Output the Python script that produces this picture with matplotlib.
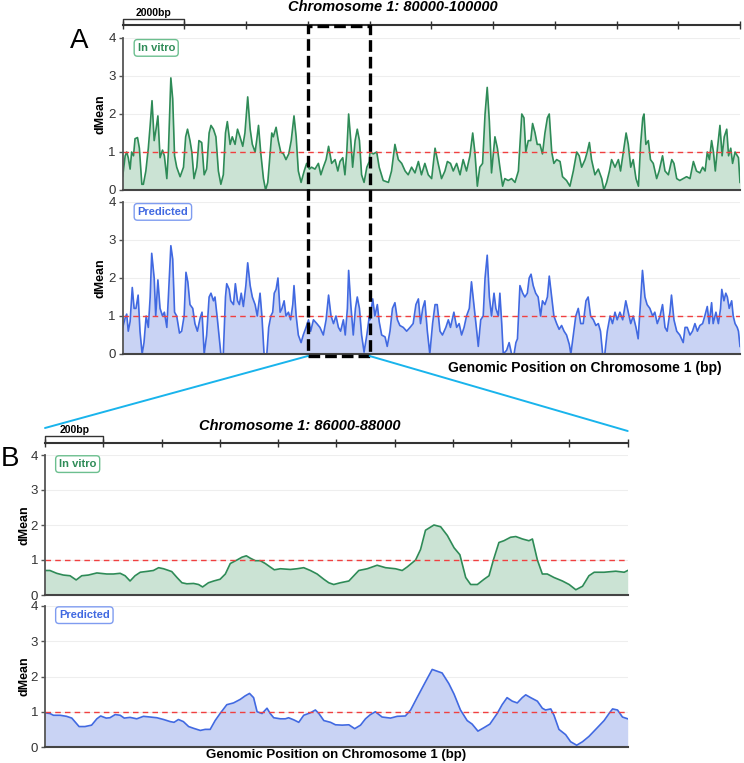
import numpy as np
import matplotlib
matplotlib.use('Agg')
import matplotlib.pyplot as plt
from matplotlib.patches import Rectangle, ConnectionPatch
from matplotlib.transforms import blended_transform_factory

plt.rcParams['font.family'] = ['Liberation Sans', 'DejaVu Sans']

# Panel A: chr1 80000-100000 (positions in kb from window start)
a_vitro_kb = [0.00, 0.08, 0.13, 0.18, 0.24, 0.29, 0.35, 0.40, 0.48, 0.54, 0.62, 0.67, 0.75, 0.83, 0.89, 0.95,
              1.02, 1.08, 1.14, 1.21, 1.29, 1.35, 1.43, 1.48, 1.56, 1.62, 1.68, 1.75, 1.86, 1.97, 2.04, 2.10,
              2.18, 2.24, 2.31, 2.40, 2.47, 2.56, 2.64, 2.72, 2.80, 2.86, 2.94, 3.02, 3.10, 3.18, 3.26, 3.33,
              3.39, 3.48, 3.55, 3.64, 3.72, 3.80, 3.89, 3.96, 4.05, 4.13, 4.20, 4.29, 4.34, 4.40, 4.47, 4.56,
              4.63, 4.70, 4.77, 4.83, 4.88, 4.97, 5.04, 5.12, 5.21, 5.29, 5.38, 5.46, 5.55, 5.62, 5.69, 5.78,
              5.88, 5.96, 6.05, 6.12, 6.23, 6.34, 6.42, 6.50, 6.59, 6.67, 6.77, 6.88, 6.97, 7.04, 7.13, 7.20,
              7.26, 7.32, 7.39, 7.45, 7.53, 7.60, 7.67, 7.74, 7.82, 7.91, 7.99,
              8.01, 8.12, 8.23, 8.31, 8.44, 8.61, 8.71, 8.82, 8.93, 9.04, 9.15, 9.25, 9.36, 9.47, 9.58, 9.68,
              9.79, 9.90, 10.01, 10.12, 10.22, 10.33, 10.44, 10.52, 10.62, 10.71, 10.82, 10.93, 11.03, 11.14,
              11.25, 11.34, 11.41, 11.49, 11.57, 11.66, 11.74, 11.81, 11.88, 11.95, 12.06, 12.14, 12.22, 12.31,
              12.38, 12.49, 12.60, 12.71, 12.82, 12.87, 12.93, 13.00, 13.06, 13.14, 13.22, 13.28, 13.36, 13.43,
              13.52, 13.60, 13.68, 13.76, 13.82, 13.90, 13.97, 14.06, 14.17, 14.25, 14.38, 14.49, 14.60, 14.71,
              14.79, 14.87, 14.98, 15.05, 15.12, 15.19, 15.30, 15.41, 15.52, 15.59, 15.68, 15.77, 15.84, 15.95,
              16.06, 16.13, 16.22, 16.31, 16.38, 16.46, 16.54, 16.63, 16.71, 16.78, 16.85, 16.89, 16.95, 17.03,
              17.10, 17.19, 17.30, 17.38, 17.49, 17.57, 17.68, 17.79, 17.86, 17.95, 18.05, 18.16, 18.27, 18.38,
              18.49, 18.59, 18.70, 18.79, 18.87, 18.94, 19.01, 19.08, 19.14, 19.20, 19.27, 19.35, 19.42, 19.49,
              19.57, 19.63, 19.70, 19.76, 19.84, 19.95, 20.00]
a_vitro = [0.36, 0.9, 1.0, 0.85, 0.55, 1.0, 0.9, 1.35, 1.38, 1.1, 0.15, 0.15, 0.5, 1.1, 1.7, 2.35,
           1.3, 1.6, 1.95, 0.85, 1.05, 0.9, 0.3, 1.0, 2.95, 2.4, 0.9, 0.6, 0.35, 0.6, 1.4, 1.6,
           1.3, 1.0, 0.3, 0.6, 1.3, 1.25, 0.4, 0.55, 1.5, 1.7, 1.6, 1.4, 0.5, 0.15, 0.4, 1.5,
           1.8, 1.2, 1.4, 1.2, 1.6, 1.4, 1.15, 1.5, 2.45, 1.6, 1.2, 1.0, 1.3, 1.7, 1.0, 0.3,
           0.0, 0.2, 0.9, 1.5, 1.4, 1.65, 1.3, 1.0, 0.95, 0.8, 0.95, 1.3, 1.95, 1.4, 0.5, 0.2,
           0.5, 0.7, 0.55, 0.6, 0.55, 0.7, 0.4, 0.6, 0.8, 1.15, 0.7, 0.8, 0.5, 0.75, 0.85, 0.4,
           1.0, 2.0, 1.3, 0.6, 1.3, 1.6, 1.3, 0.4, 0.2, 0.6, 0.75,
           1.0, 0.95, 1.0, 0.6, 0.25, 0.2, 0.5, 1.2, 0.8, 0.7, 0.5, 0.4, 0.6, 0.45, 0.75, 0.4,
           0.7, 0.4, 0.3, 1.1, 0.7, 0.3, 0.5, 0.75, 0.7, 0.5, 0.7, 0.4, 0.8, 0.5,
           0.9, 1.5, 1.0, 0.1, 0.6, 0.7, 2.0, 2.7, 1.8, 0.45, 1.4, 1.1, 0.6, 0.1,
           0.3, 0.25, 0.3, 0.2, 0.5, 1.2, 2.0, 1.9, 1.0, 1.3, 1.3, 1.75, 1.5, 1.2,
           1.2, 0.95, 1.5, 1.9, 2.0, 1.0, 0.7, 0.8, 0.75, 0.35, 0.25, 0.1, 0.5, 1.0,
           0.9, 0.6, 0.8, 1.0, 1.25, 0.8, 0.4, 0.55, 0.3, 0.0, 0.2, 0.5, 0.8, 0.6,
           0.8, 0.5, 1.0, 1.5, 1.2, 0.6, 0.8, 0.3, 0.1, 1.2, 1.9, 2.0, 1.2, 1.3,
           0.8, 0.7, 0.3, 0.5, 0.9, 0.5, 0.4, 0.8, 0.7, 0.3, 0.25, 0.3, 0.35, 0.3,
           0.75, 0.5, 0.45, 0.6, 0.5, 1.0, 0.8, 1.3, 1.0, 0.5, 1.1, 1.7, 0.9, 1.4,
           1.6, 0.9, 1.1, 0.7, 1.0, 0.85, 0.2]

a_pred_kb = [0.00, 0.08, 0.13, 0.18, 0.24, 0.31, 0.37, 0.43, 0.50, 0.56, 0.63, 0.69, 0.76, 0.83, 0.89, 0.94,
             1.02, 1.07, 1.14, 1.21, 1.29, 1.35, 1.43, 1.48, 1.56, 1.62, 1.68, 1.75, 1.84, 1.91, 1.99, 2.05,
             2.11, 2.18, 2.27, 2.34, 2.42, 2.51, 2.57, 2.64, 2.72, 2.80, 2.86, 2.94, 2.99, 3.07, 3.13, 3.18,
             3.26, 3.33, 3.37, 3.45, 3.50, 3.59, 3.65, 3.72, 3.78, 3.84, 3.91, 3.99, 4.05, 4.13, 4.20, 4.29,
             4.36, 4.45, 4.51, 4.58, 4.67, 4.73, 4.80, 4.86, 4.91, 4.97, 5.03, 5.10, 5.16, 5.23, 5.29, 5.37,
             5.44, 5.51, 5.55, 5.62, 5.69, 5.78, 5.85, 5.94, 6.02, 6.09, 6.18, 6.29, 6.39, 6.50, 6.59, 6.67,
             6.75, 6.83, 6.91, 6.99, 7.06, 7.15, 7.21, 7.28, 7.32, 7.39, 7.47, 7.54, 7.60, 7.67, 7.74, 7.82,
             7.91, 7.99,
             8.01, 8.10, 8.17, 8.25, 8.31, 8.39, 8.50, 8.57, 8.66, 8.74, 8.82, 8.90, 8.98, 9.09, 9.20, 9.31,
             9.41, 9.50, 9.58, 9.65, 9.72, 9.79, 9.87, 9.95, 10.04, 10.12, 10.19, 10.28, 10.36, 10.47, 10.55,
             10.62, 10.73, 10.82, 10.90, 10.98, 11.06, 11.14, 11.23, 11.30, 11.38, 11.47, 11.52, 11.60, 11.68,
             11.74, 11.81, 11.88, 11.95, 12.03, 12.09, 12.17, 12.22, 12.28, 12.33, 12.44, 12.52, 12.60, 12.68,
             12.74, 12.79, 12.87, 12.96, 13.03, 13.11, 13.17, 13.23, 13.30, 13.38, 13.46, 13.54, 13.60, 13.68,
             13.76, 13.82, 13.90, 13.97, 14.06, 14.14, 14.22, 14.30, 14.38, 14.47, 14.52, 14.60, 14.68, 14.76,
             14.84, 14.92, 15.01, 15.08, 15.16, 15.25, 15.33, 15.41, 15.48, 15.55, 15.62, 15.70, 15.79, 15.87,
             15.95, 16.02, 16.11, 16.20, 16.30, 16.38, 16.46, 16.54, 16.63, 16.70, 16.78, 16.84, 16.92, 16.99,
             17.08, 17.17, 17.24, 17.32, 17.41, 17.49, 17.57, 17.64, 17.73, 17.78, 17.86, 17.95, 18.05, 18.16,
             18.22, 18.29, 18.38, 18.46, 18.54, 18.62, 18.70, 18.79, 18.86, 18.94, 19.00, 19.08, 19.13, 19.22,
             19.30, 19.37, 19.41, 19.48, 19.54, 19.59, 19.65, 19.73, 19.78, 19.84, 19.91, 19.95, 20.00]
a_pred = [0.7, 0.95, 1.05, 0.6, 0.85, 1.75, 1.2, 1.2, 1.55, 0.6, 0.0, 0.3, 1.0, 0.7, 1.5, 2.65,
          2.0, 1.0, 1.95, 1.2, 1.0, 1.1, 0.7, 1.5, 2.85, 2.5, 1.1, 1.0, 0.55, 0.6, 1.0, 2.15,
          1.9, 1.3, 1.2, 0.8, 0.6, 0.95, 1.1, 0.0, 0.5, 1.5, 1.6, 1.4, 1.5, 0.9, 0.4, 0.0,
          0.0, 1.5, 1.85, 1.7, 1.4, 1.3, 1.85, 1.4, 1.3, 1.6, 1.25, 1.8, 2.4, 1.8, 1.5, 1.3,
          1.0, 1.6, 1.0, 0.0, 0.0, 0.7, 1.0, 1.1, 1.6, 1.7, 2.0, 1.1, 1.2, 1.4, 1.0, 1.1,
          0.9, 1.3, 1.8, 1.0, 0.5, 0.3, 0.5, 0.7, 0.9, 0.6, 0.9, 0.8, 0.7, 0.5, 0.9, 1.55,
          1.0, 0.8, 1.0, 0.7, 0.6, 0.9, 0.5, 1.2, 2.2, 1.3, 0.5, 1.2, 1.5, 1.2, 0.5, 0.05,
          0.5, 1.0,
          0.9, 1.45, 1.0, 1.3, 0.85, 0.5, 0.45, 0.2, 0.6, 1.2, 1.35, 0.9, 0.75, 0.7, 0.6, 0.7,
          0.8, 1.3, 1.45, 0.8, 1.2, 1.4, 0.6, 0.0, 0.8, 1.3, 1.3, 0.6, 0.5, 0.7, 0.9,
          0.7, 1.1, 0.7, 0.8, 0.5, 0.7, 1.0, 1.2, 1.9, 1.3, 0.6, 0.2, 0.9, 1.0,
          2.0, 2.6, 1.5, 1.0, 1.6, 1.2, 1.0, 1.6, 0.8, 0.0, 0.1, 0.3, 0.0, 0.0,
          0.3, 0.4, 1.8, 1.6, 1.5, 1.6, 2.0, 2.1, 1.8, 1.6, 1.5, 1.0, 1.4, 1.3,
          1.5, 2.05, 1.5, 1.0, 0.8, 0.65, 0.75, 0.6, 0.5, 0.25, 0.0, 0.5, 1.0, 1.2,
          0.8, 0.8, 1.4, 1.5, 1.0, 0.9, 0.75, 0.8, 0.6, 0.0, 0.0, 0.6, 1.0, 0.8,
          1.1, 0.9, 1.1, 0.9, 1.4, 1.1, 0.8, 1.0, 0.7, 0.4, 1.4, 2.2, 1.5, 1.3,
          1.2, 1.0, 1.1, 0.8, 1.0, 1.3, 0.7, 0.6, 1.1, 1.55, 0.9, 0.6, 0.5, 0.3,
          0.7, 0.7, 0.5, 0.6, 0.8, 0.6, 0.75, 0.8, 1.0, 1.25, 0.8, 1.35, 0.8, 1.1,
          0.8, 1.2, 1.7, 1.4, 1.6, 1.5, 1.2, 1.4, 1.0, 0.8, 0.7, 0.6, 0.2]

# Panel B: chr1 86000-88000 (positions in bp from window start)
b_vitro_bp = [0, 17, 40, 63, 86, 107, 126, 149, 178, 212, 235, 258, 275, 292, 309, 327, 355, 372, 390, 407,
              435, 453, 470, 487, 510, 527, 541, 561, 579, 601, 619, 636, 659, 676, 691, 705, 722, 739, 756,
              773, 787, 808, 842, 865, 888, 911, 934, 957, 974, 991, 1014, 1043, 1060, 1077, 1106,
              1140, 1169, 1203, 1226, 1243, 1272, 1289, 1306, 1335, 1358, 1381, 1404, 1424, 1444, 1461, 1484,
              1507, 1524, 1539, 1558, 1575, 1598, 1616, 1639, 1661, 1673, 1690, 1707, 1724, 1747, 1776, 1799,
              1822, 1845, 1867, 1885, 1919, 1959, 1988, 2000]
b_vitro = [0.7, 0.7, 0.62, 0.57, 0.55, 0.43, 0.55, 0.57, 0.63, 0.6, 0.6, 0.62, 0.55, 0.4, 0.55, 0.65, 0.68, 0.7, 0.78, 0.75,
           0.67, 0.5, 0.35, 0.32, 0.33, 0.3, 0.23, 0.35, 0.4, 0.45, 0.6, 0.9, 1.0, 1.08, 1.12, 1.05, 0.98, 0.98, 0.9,
           0.8, 0.72, 0.75, 0.73, 0.75, 0.78, 0.7, 0.6, 0.45, 0.35, 0.3, 0.35, 0.4, 0.55, 0.7, 0.75,
           0.85, 0.78, 0.75, 0.7, 0.8, 1.0, 1.3, 1.85, 2.0, 1.95, 1.7, 1.35, 1.15, 0.5, 0.3, 0.3,
           0.45, 0.55, 1.0, 1.5, 1.55, 1.65, 1.67, 1.6, 1.55, 1.6, 1.0, 0.6, 0.6, 0.5, 0.4, 0.3,
           0.15, 0.25, 0.55, 0.65, 0.65, 0.68, 0.65, 0.7]

b_pred_bp = [0, 17, 29, 52, 74, 92, 117, 137, 160, 178, 191, 210, 223, 241, 258, 272, 292, 315, 338, 361,
             384, 407, 430, 443, 458, 475, 493, 510, 533, 550, 567, 584, 601, 624, 647, 670, 687, 702, 716,
             728, 745, 762, 773, 785, 808, 825, 836, 854, 871, 888, 911, 928, 940, 957, 980, 997, 1020,
             1043, 1063, 1083, 1100,
             1117, 1134, 1157, 1186, 1209, 1237, 1255, 1277, 1306, 1329, 1346, 1363, 1386, 1404, 1426, 1449,
             1466, 1486, 1507, 1527, 1552, 1569, 1586, 1604, 1621, 1638, 1650, 1667, 1690, 1707, 1718, 1736,
             1747, 1764, 1787, 1804, 1825, 1845, 1867, 1896, 1919, 1936, 1948, 1965, 1982, 2000]
b_pred = [0.97, 0.95, 0.9, 0.9, 0.87, 0.82, 0.58, 0.58, 0.62, 0.8, 0.88, 0.82, 0.83, 0.92, 0.9, 0.82, 0.84, 0.8, 0.87, 0.85,
          0.83, 0.78, 0.72, 0.7, 0.78, 0.72, 0.58, 0.53, 0.47, 0.5, 0.5, 0.75, 0.95, 1.2, 1.25, 1.35, 1.45, 1.52, 1.4,
          1.0, 0.95, 1.1, 0.95, 0.83, 0.8, 0.8, 0.83, 0.77, 0.7, 0.9, 0.97, 1.05, 0.95, 0.75, 0.7, 0.63, 0.62,
          0.63, 0.52, 0.62, 0.8,
          0.92, 1.0, 0.85, 0.82, 0.87, 0.88, 1.05, 1.4, 1.85, 2.2, 2.15, 2.1, 1.8, 1.5, 1.05, 0.75,
          0.65, 0.45, 0.55, 0.65, 0.95, 1.2, 1.4, 1.3, 1.25, 1.4, 1.48, 1.4, 1.3, 1.1, 1.05, 1.08,
          0.9, 0.5, 0.35, 0.15, 0.05, 0.15, 0.3, 0.55, 0.75, 0.95, 1.08, 1.05, 0.85, 0.8]

threshold = 1.0
green, green_fill, green_edge = '#2e8b57', '#cbe3d4', '#6cbf8f'
blue, blue_fill, blue_edge = '#4169e1', '#c9d3f4', '#7f9cf0'

W, H = 744, 763
fig = plt.figure(figsize=(W / 100, H / 100), dpi=100)


def fpos(x0, y0, x1, y1):
    # pixel box -> figure fraction rect
    return [x0 / W, 1 - y1 / H, (x1 - x0) / W, (y1 - y0) / H]


def track(rect, x, y, line_c, fill_c, edge_c, name, xlim):
    ax = fig.add_axes(rect)
    ax.fill_between(x, 0, y, color=fill_c, lw=0)
    ax.plot(x, y, color=line_c, lw=1.2)
    ax.axhline(threshold, color='#f04040', lw=1, dashes=(4, 3))
    ax.set_xlim(*xlim)
    ax.set_ylim(0, 4)
    ax.set_yticks([0, 1, 2, 3, 4])
    ax.set_xticks([])
    ax.grid(axis='y', color='#eeeeee', lw=0.8)
    ax.set_axisbelow(True)
    for s in ['top', 'right']:
        ax.spines[s].set_visible(False)
    ax.spines['left'].set_color('#555555')
    ax.spines['left'].set_linewidth(1.3)
    ax.spines['bottom'].set_color('#444444')
    ax.spines['bottom'].set_linewidth(1.5)
    ax.tick_params(axis='y', direction='out', length=3, width=1, color='#555555',
                   labelsize=9.5, labelcolor='#333333', pad=2)
    ax.text(0.024, 0.935, name, transform=ax.transAxes, ha='left', va='center',
            fontsize=8, fontweight='bold', color=line_c,
            bbox=dict(boxstyle='round,pad=0.3', fc='white', ec=edge_c, lw=1))
    return ax


def ruler(rect, xlim, step, bar_text):
    ax = fig.add_axes(rect)
    ax.set_xlim(*xlim)
    ax.set_ylim(0, 1)
    ax.patch.set_visible(False)
    for s in ['top', 'right', 'left']:
        ax.spines[s].set_visible(False)
    ax.spines['bottom'].set_color('#333333')
    ax.spines['bottom'].set_linewidth(1.5)
    ax.set_yticks([])
    ax.set_xticks(np.arange(xlim[0], xlim[1] + 1, step))
    ax.tick_params(axis='x', direction='inout', length=6, width=1, color='#333333', labelbottom=False)
    x0, x1 = xlim[0], xlim[0] + step
    ax.plot([x0, x0, x1, x1], [0, 0.38, 0.38, 0], color='#333333', lw=1, clip_on=False)
    ax.text((x0 + x1) / 2, 0.72, bar_text, ha='center', va='center', fontsize=7.5, fontweight='bold')
    return ax


a_x_vitro = 80000 + 1000 * np.array(a_vitro_kb)
a_x_pred = 80000 + 1000 * np.array(a_pred_kb)
b_x_vitro = 86000 + np.array(b_vitro_bp)
b_x_pred = 86000 + np.array(b_pred_bp)

# panel A
rulA = ruler(fpos(122.7, 8, 740, 25), (80000, 100000), 2000, '2000bp')
axA1 = track(fpos(122.7, 38, 740, 190), a_x_vitro, a_vitro, green, green_fill, green_edge, 'In vitro', (80000, 100000))
axA2 = track(fpos(122.7, 202, 740, 354), a_x_pred, a_pred, blue, blue_fill, blue_edge, 'Predicted', (80000, 100000))

# panel B
rulB = ruler(fpos(45, 425, 627.7, 443), (86000, 88000), 200, '200bp')
axB1 = track(fpos(45, 455, 627.7, 595), b_x_vitro, b_vitro, green, green_fill, green_edge, 'In vitro', (86000, 88000))
axB2 = track(fpos(45, 606, 627.7, 747), b_x_pred, b_pred, blue, blue_fill, blue_edge, 'Predicted', (86000, 88000))

# titles, labels
fig.text(393 / W, 1 - 7 / H, 'Chromosome 1: 80000-100000', ha='center', va='center',
         fontsize=10.5, fontweight='bold', fontstyle='italic')
fig.text(300 / W, 1 - 426 / H, 'Chromosome 1: 86000-88000', ha='center', va='center',
         fontsize=10.5, fontweight='bold', fontstyle='italic')
fig.text(585 / W, 1 - 368 / H, 'Genomic Position on Chromosome 1 (bp)', ha='center', va='center',
         fontsize=10, fontweight='bold')
fig.text(336 / W, 1 - 755 / H, 'Genomic Position on Chromosome 1 (bp)', ha='center', va='center',
         fontsize=9.5, fontweight='bold')
for yc in [114, 278]:
    fig.text(100 / W, 1 - yc / H, 'dMean', rotation=90, ha='center', va='center', fontsize=9, fontweight='bold')
for yc in [525, 676]:
    fig.text(25 / W, 1 - yc / H, 'dMean', rotation=90, ha='center', va='center', fontsize=9, fontweight='bold')
fig.text(79 / W, 1 - 41 / H, 'A', ha='center', va='center', fontsize=20)
fig.text(10 / W, 1 - 459 / H, 'B', ha='center', va='center', fontsize=20)

# zoom box around 86000-88000 in panel A
blendA = blended_transform_factory(axA2.transData, fig.transFigure)
box = Rectangle((86000, 1 - 356 / H), 2000, (356 - 26) / H, transform=blendA, fill=False,
                ec='black', lw=2.4, ls=(0, (3.5, 1.5)))
fig.add_artist(box)

# connector lines to panel B
blendB = blended_transform_factory(rulB.transData, fig.transFigure)
for xa, yb in [(86000, 428), (88000, 431)]:
    con = ConnectionPatch(xyA=(xa, 1 - 356 / H), coordsA=blendA, xyB=(xa, 1 - yb / H), coordsB=blendB,
                          color='#19b4ec', lw=1.4)
    fig.add_artist(con)

fig.savefig('out.png', dpi=100)
